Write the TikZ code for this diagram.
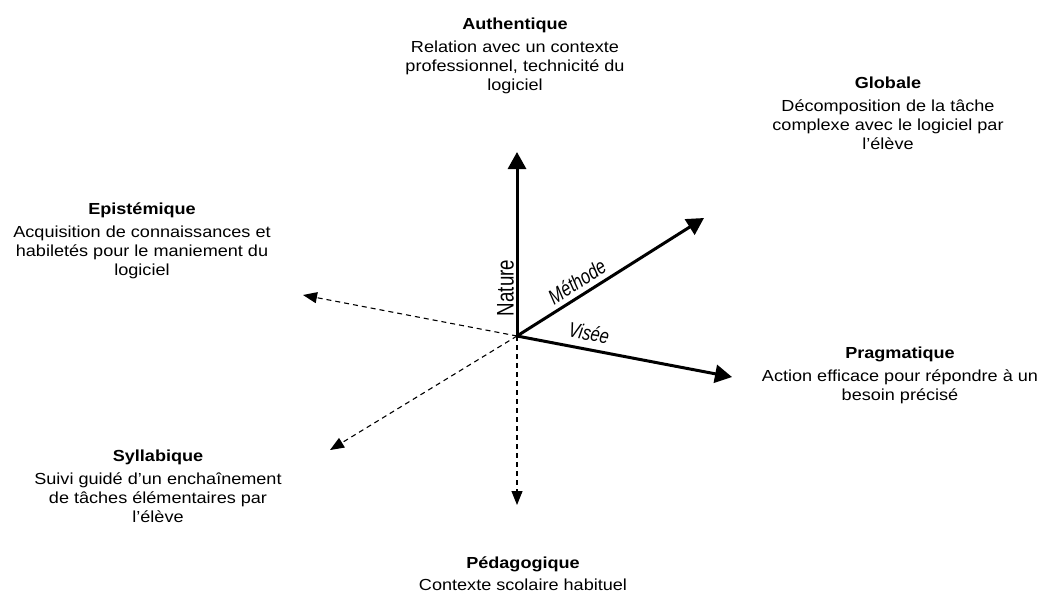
\documentclass[tikz,border=0pt]{standalone}
\usepackage{fontspec}
\setmainfont{Liberation Sans}[FakeStretch=1.13]
\newfontfamily\axisfont{Liberation Sans}[FakeStretch=0.78]
\usetikzlibrary{arrows.meta}
\begin{document}
\begin{tikzpicture}[x=1pt,y=-1pt,
  lbl/.style={align=center, inner sep=0pt, anchor=north, font=\fontsize{16}{19.3}\selectfont},
  axislbl/.style={inner sep=0pt, anchor=base, font=\axisfont\fontsize{21}{25}\selectfont},
  mainaxis/.style={line width=3pt, -{Triangle[length=17pt,width=18pt]}},
  otheraxis/.style={line width=1.1pt, dash pattern=on 5pt off 4pt, -{Triangle[length=14pt,width=11pt]}}]
\useasboundingbox (0,0) rectangle (1040,595);

\coordinate (O) at (517,336);
\coordinate (tN) at (517,152);
\coordinate (tM) at (704,218);
\coordinate (tV) at (732,377);
\coordinate (tE) at (303,295);
\coordinate (tS) at (330,450);
\coordinate (tP) at (517,505);

\draw[otheraxis] (O) -- (tE);
\draw[otheraxis] (O) -- (tS);
\draw[otheraxis] (O) -- (tP);
\draw[mainaxis] (O) -- (tN);
\draw[mainaxis] (O) -- (tM);
\draw[mainaxis] (O) -- (tV);

\node[axislbl, rotate=90, font=\axisfont\fontsize{24}{28}\selectfont] (nature) at (513.5,288) {Nature};
\node[axislbl, rotate=32.3] (methode) at (581,288) {\itshape Méthode};
\node[axislbl, rotate=-11] (visee) at (587.5,340.5) {\itshape Visée};

\node[lbl] (auth) at (515,18) {\textbf{Authentique}\\[3pt] Relation avec un contexte\\ professionnel, technicité du\\ logiciel};
\node[lbl] (glob) at (888,77) {\textbf{Globale}\\[3pt] Décomposition de la tâche\\ complexe avec le logiciel par\\ l’élève};
\node[lbl] (epis) at (142,203) {\textbf{Epistémique}\\[3pt] Acquisition de connaissances et\\ habiletés pour le maniement du\\ logiciel};
\node[lbl] (prag) at (900,347) {\textbf{Pragmatique}\\[3pt] Action efficace pour répondre à un\\ besoin précisé};
\node[lbl] (syll) at (158,450) {\textbf{Syllabique}\\[3pt] Suivi guidé d’un enchaînement\\ de tâches élémentaires par\\ l’élève};
\node[lbl] (peda) at (523,557) {\textbf{Pédagogique}\\[2pt] Contexte scolaire habituel};
\end{tikzpicture}
\end{document}
